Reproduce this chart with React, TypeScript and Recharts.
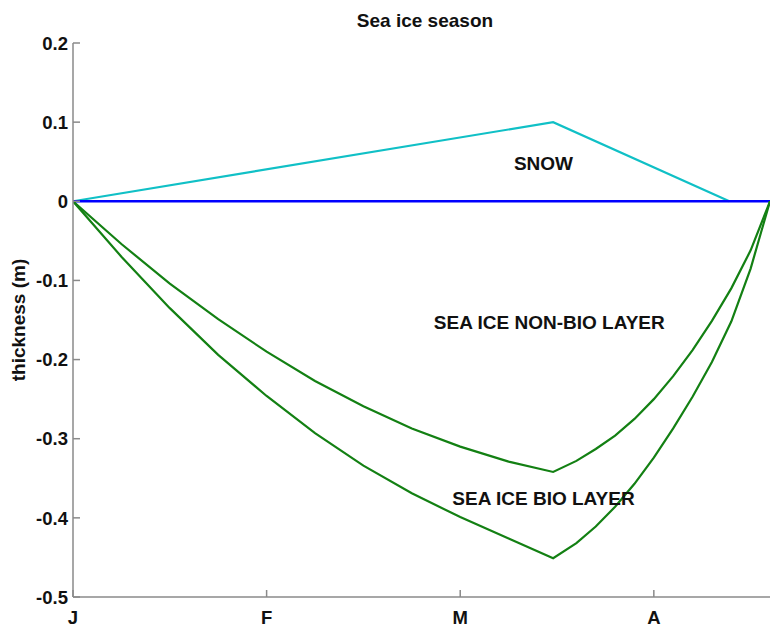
import React from 'react';
import { LineChart, Line, XAxis, YAxis, ReferenceDot } from 'recharts';

// Time axis: months since 1 January (J=0, F=1, M=2, A=3)
const monthTicks = [0, 1, 2, 3];
const monthLabels = ['J', 'F', 'M', 'A'];
const thicknessTicks = [-0.5, -0.4, -0.3, -0.2, -0.1, 0, 0.1, 0.2];
const thicknessLabels = ['-0.5', '-0.4', '-0.3', '-0.2', '-0.1', '0', '0.1', '0.2'];

const snowT = [0, 2.48, 3.39];
const snowH = [0, 0.1, 0];

const surfaceT = [0, 3.6];
const surfaceH = [0, 0];

const nonBioT = [0, 0.25, 0.5, 0.75, 1.0, 1.25, 1.5, 1.75, 2.0, 2.25, 2.48, 2.6, 2.7, 2.8, 2.9, 3.0, 3.1, 3.2, 3.3, 3.4, 3.5, 3.6];
const nonBioH = [0, -0.054, -0.104, -0.149, -0.19, -0.227, -0.259, -0.287, -0.31, -0.329, -0.342, -0.328, -0.313, -0.296, -0.275, -0.25, -0.221, -0.188, -0.151, -0.11, -0.062, 0];

const bioT = [0, 0.25, 0.5, 0.75, 1.0, 1.25, 1.5, 1.75, 2.0, 2.25, 2.48, 2.6, 2.7, 2.8, 2.9, 3.0, 3.1, 3.2, 3.3, 3.4, 3.5, 3.6];
const bioH = [0, -0.07, -0.135, -0.194, -0.246, -0.293, -0.334, -0.369, -0.399, -0.426, -0.451, -0.432, -0.411, -0.386, -0.357, -0.324, -0.287, -0.247, -0.203, -0.152, -0.085, 0];

const annotations = [
  { t: 2.43, h: 0.048, text: 'SNOW' },
  { t: 2.46, h: -0.153, text: 'SEA ICE NON-BIO LAYER' },
  { t: 2.43, h: -0.375, text: 'SEA ICE BIO LAYER' },
];

const chartTitle = 'Sea ice season';
const yAxisTitle = 'thickness (m)';

const toRows = (ts: number[], hs: number[]) => ts.map((t, i) => ({ t, h: hs[i] }));
const snowData = toRows(snowT, snowH);
const surfaceData = toRows(surfaceT, surfaceH);
const nonBioData = toRows(nonBioT, nonBioH);
const bioData = toRows(bioT, bioH);

const FONT = '"Liberation Sans", Arial, Helvetica, sans-serif';
const AXIS = '#8a8a8a';
const TXT = '#111111';

const labelFor = (v: number) => {
  const i = thicknessTicks.findIndex((x) => Math.abs(x - v) < 1e-9);
  return i >= 0 ? thicknessLabels[i] : String(v);
};
const monthFor = (v: number) => {
  const i = monthTicks.indexOf(v);
  return i >= 0 ? monthLabels[i] : '';
};

const LeftTick = (p: any) => (
  <g>
    <line x1={p.x} x2={p.x + 7} y1={p.y} y2={p.y} stroke={AXIS} strokeWidth={1.5} />
    <text x={p.x - 5} y={p.y} dy="0.36em" textAnchor="end" fontFamily={FONT} fontWeight="bold" fontSize={18.5} fill={TXT}>
      {labelFor(p.payload.value)}
    </text>
  </g>
);
const RightTick = (p: any) => (
  <line x1={p.x} x2={p.x - 7} y1={p.y} y2={p.y} stroke={AXIS} strokeWidth={1.5} />
);
const BottomTick = (p: any) => (
  <g>
    <line x1={p.x} x2={p.x} y1={p.y} y2={p.y - 7} stroke={AXIS} strokeWidth={1.5} />
    <text x={p.x} y={p.y + 27} textAnchor="middle" fontFamily={FONT} fontWeight="bold" fontSize={18.5} fill={TXT}>
      {monthFor(p.payload.value)}
    </text>
  </g>
);
const TopTick = (p: any) => (
  <line x1={p.x} x2={p.x} y1={p.y} y2={p.y + 7} stroke={AXIS} strokeWidth={1.5} />
);

const TextLabel = (text: string, offsetY: number) => (p: any) => {
  const vb = p.viewBox || {};
  const cx = vb.x + (vb.width || 0) / 2;
  const cy = vb.y + (vb.height || 0) / 2 + offsetY;
  return (
    <text x={cx} y={cy} dy="0.36em" textAnchor="middle" fontFamily={FONT} fontWeight="bold" fontSize={19} fill={TXT}>
      {text}
    </text>
  );
};

const YTitle = (p: any) => {
  const vb = p.viewBox;
  const cy = vb.y + vb.height / 2;
  return (
    <text x={18} y={cy} transform={`rotate(-90, 18, ${cy})`} dy="0.36em" textAnchor="middle" fontFamily={FONT} fontWeight="bold" fontSize={19} fill={TXT}>
      {yAxisTitle}
    </text>
  );
};

export default function App() {
  return (
    <div style={{ position: 'absolute', left: 0, top: 0, width: 771, height: 630, background: '#fff' }}>
      <LineChart width={771} height={630} margin={{ top: 43, right: 1, bottom: 0, left: 0 }}>
        <XAxis
          dataKey="t"
          type="number"
          domain={[0, 3.6]}
          ticks={monthTicks}
          allowDataOverflow
          height={33}
          tickSize={0}
          tickMargin={0}
          tick={<BottomTick />}
          axisLine={{ stroke: AXIS, strokeWidth: 1.5 }}
          interval={0}
        />
        <XAxis
          xAxisId="top"
          orientation="top"
          dataKey="t"
          type="number"
          domain={[0, 3.6]}
          ticks={monthTicks}
          allowDataOverflow
          height={0}
          tickSize={0}
          tickMargin={0}
          tick={<TopTick />}
          axisLine={{ stroke: AXIS, strokeWidth: 1.5 }}
          interval={0}
        />
        <YAxis
          type="number"
          domain={[-0.5, 0.2]}
          ticks={thicknessTicks}
          allowDataOverflow
          width={73}
          tickSize={0}
          tickMargin={0}
          tick={<LeftTick />}
          axisLine={{ stroke: AXIS, strokeWidth: 1.5 }}
          interval={0}
          label={{ content: YTitle }}
        />
        <YAxis
          yAxisId="right"
          orientation="right"
          type="number"
          domain={[-0.5, 0.2]}
          ticks={thicknessTicks}
          allowDataOverflow
          width={0}
          tickSize={0}
          tickMargin={0}
          tick={<RightTick />}
          axisLine={{ stroke: AXIS, strokeWidth: 1.5 }}
          interval={0}
        />
        <Line data={snowData} dataKey="h" type="linear" stroke="#10c0c6" strokeWidth={2.2} dot={false} isAnimationActive={false} />
        <Line data={surfaceData} dataKey="h" type="linear" stroke="#0000ff" strokeWidth={2.6} dot={false} isAnimationActive={false} />
        <Line data={nonBioData} dataKey="h" type="linear" stroke="#138013" strokeWidth={2.2} dot={false} isAnimationActive={false} />
        <Line data={bioData} dataKey="h" type="linear" stroke="#138013" strokeWidth={2.2} dot={false} isAnimationActive={false} />
        {annotations.map((a) => (
          <ReferenceDot key={a.text} x={a.t} y={a.h} r={0} fill="none" stroke="none" label={{ content: TextLabel(a.text, 0) }} />
        ))}
        <ReferenceDot x={1.818} y={0.2} r={0} fill="none" stroke="none" ifOverflow="visible" label={{ content: TextLabel(chartTitle, -23) }} />
      </LineChart>
    </div>
  );
}
